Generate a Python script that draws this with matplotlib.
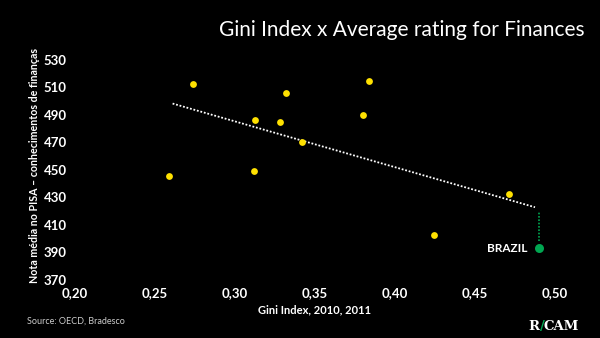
import numpy as np
import matplotlib.pyplot as plt

# Gini x nota media PISA (financas)
gini = [0.2735, 0.259, 0.3127, 0.332, 0.328, 0.342, 0.312, 0.384, 0.380, 0.471, 0.4246]
nota = [512.3, 445.4, 486.4, 506, 484.9, 470.6, 449.5, 514.5, 489.8, 432.5, 403]
brazil_gini = 0.49
brazil_nota = 393
trend_range = [0.261, 0.4875]

x_ticks = [0.20, 0.25, 0.30, 0.35, 0.40, 0.45, 0.50]
y_ticks = [370, 390, 410, 430, 450, 470, 490, 510, 530]

plt.rcParams['font.family'] = ['Lato', 'DejaVu Sans']

fig = plt.figure(figsize=(6, 3.38), dpi=100, facecolor='black')
ax = fig.add_axes([0.125, 0.1716, 0.8, 0.651])
ax.set_facecolor('black')

# linha de tendencia (todos os pontos, inclusive Brasil)
all_x = np.array(gini + [brazil_gini])
all_y = np.array(nota + [brazil_nota])
k, b = np.polyfit(all_x, all_y, 1)
tx = np.array(trend_range)
ax.plot(tx, k * tx + b, color='white', linestyle=(0, (1, 1)), linewidth=1.3, zorder=2)

# ligacao do Brasil com a tendencia
ax.plot([brazil_gini, brazil_gini], [brazil_nota + 5, k * brazil_gini + b - 2],
        color='#00a651', linestyle=(0, (1, 1)), linewidth=1.2, zorder=2)

ax.scatter(gini, nota, s=24, color='#ffe100', zorder=3, linewidths=0)
ax.scatter([brazil_gini], [brazil_nota], s=42, color='#00a651', zorder=3, linewidths=0)
ax.text(brazil_gini - 0.007, brazil_nota, 'BRAZIL', color='white', fontsize=8.5,
        fontweight='bold', ha='right', va='center')

ax.set_xlim(0.2, 0.5)
ax.set_ylim(370, 530)
ax.set_xticks(x_ticks)
ax.set_xticklabels([('%.2f' % t).replace('.', ',') for t in x_ticks])
ax.set_yticks(y_ticks)
ax.set_yticklabels([str(t) for t in y_ticks])
ax.tick_params(colors='white', length=0, labelsize=9.5)
ax.tick_params(axis='x', pad=5)
ax.tick_params(axis='y', pad=6)
for lbl in ax.get_xticklabels() + ax.get_yticklabels():
    lbl.set_fontweight('bold')
for s in ax.spines.values():
    s.set_visible(False)

ax.set_xlabel('Gini Index, 2010, 2011', color='white', fontsize=8, fontweight='bold', labelpad=4)
fig.text(0.057, 0.51, 'Nota média no PISA – conhecimentos de finanças', color='white',
         fontsize=7.7, fontweight='bold', rotation=90, ha='center', va='center')

fig.text(0.975, 0.91, 'Gini Index x Average rating for Finances', color='white',
         fontsize=15, fontweight='normal', ha='right', va='center')
fig.text(0.045, 0.05, 'Source: OECD, Bradesco', color='#cccccc', fontsize=6.5, ha='left', va='center')

# logo
fig.text(0.88, 0.035, 'R', color='white', fontsize=9.5, fontweight='bold', family='DejaVu Serif',
         ha='left', va='center')
fig.text(0.9, 0.035, '/', color='#00a651', fontsize=9.5, fontweight='bold', family='DejaVu Serif',
         ha='left', va='center')
fig.text(0.906, 0.035, 'CAM', color='white', fontsize=9.5, fontweight='bold', family='DejaVu Serif',
         ha='left', va='center')

fig.savefig('out.png', dpi=100, facecolor='black')
